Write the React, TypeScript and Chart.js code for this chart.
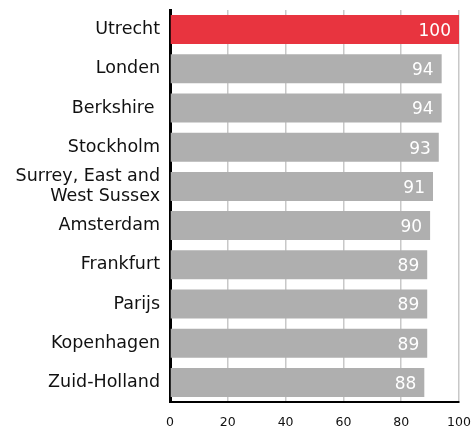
import React, { useEffect, useRef } from "react";
import { Chart, registerables } from "chart.js";

Chart.register(...registerables);

const categories: (string | string[])[] = [
  "Utrecht",
  "Londen",
  "Berkshire ",
  "Stockholm",
  ["Surrey, East and", "West Sussex"],
  "Amsterdam",
  "Frankfurt",
  "Parijs",
  "Kopenhagen",
  "Zuid-Holland",
];
const values: number[] = [100, 94, 94, 93, 91, 90, 89, 89, 89, 88];
const barColors: string[] = values.map((_, i) => (i === 0 ? "#E8343F" : "#AFAFAF"));
const xTicks = { min: 0, max: 100, step: 20 };

const FONT = "'DejaVu Sans', sans-serif";

const valueLabels = {
  id: "valueLabels",
  afterDatasetsDraw(chart: any) {
    const ctx = chart.ctx;
    const meta = chart.getDatasetMeta(0);
    ctx.save();
    ctx.font = `17px ${FONT}`;
    ctx.fillStyle = "#ffffff";
    ctx.textAlign = "right";
    ctx.textBaseline = "middle";
    meta.data.forEach((bar: any, i: number) => {
      ctx.fillText(String(values[i]), bar.x - 8, bar.y + 2);
    });
    ctx.restore();
  },
};

export default function App() {
  const ref = useRef<HTMLCanvasElement>(null);
  useEffect(() => {
    document.body.style.margin = "0";
    const chart = new Chart(ref.current!, {
      type: "bar",
      data: {
        labels: categories,
        datasets: [
          {
            data: values,
            backgroundColor: barColors,
            barPercentage: 0.74,
            categoryPercentage: 1,
          },
        ],
      },
      options: {
        indexAxis: "y",
        animation: false,
        responsive: false,
        layout: { padding: { top: 10, right: 13, left: 0, bottom: 0 } },
        plugins: { legend: { display: false }, tooltip: { enabled: false } },
        scales: {
          x: {
            min: xTicks.min,
            max: xTicks.max,
            ticks: {
              stepSize: xTicks.step,
              color: "#111",
              font: { family: FONT, size: 12.5 },
              padding: 13,
              maxRotation: 0,
            },
            grid: { display: true, color: "#c8c8c8", lineWidth: 1.5, drawTicks: false },
            border: { display: true, color: "#000", width: 2 },
            afterFit: (s: any) => {
              s.height = 27;
              s.paddingLeft = 0;
              s.paddingRight = 0;
            },
          },
          y: {
            ticks: {
              autoSkip: false,
              color: "#111",
              font: { family: FONT, size: 17.5, lineHeight: 1.15 },
              padding: 10,
            },
            grid: { display: false, drawTicks: false },
            border: { display: true, color: "#000", width: 3 },
            afterFit: (s: any) => {
              s.width = 170;
              s.paddingTop = 0;
              s.paddingBottom = 0;
            },
          },
        },
      },
      plugins: [valueLabels],
    });
    return () => chart.destroy();
  }, []);
  return (
    <div style={{ width: 472, height: 429 }}>
      <canvas ref={ref} width={472} height={429} />
    </div>
  );
}
